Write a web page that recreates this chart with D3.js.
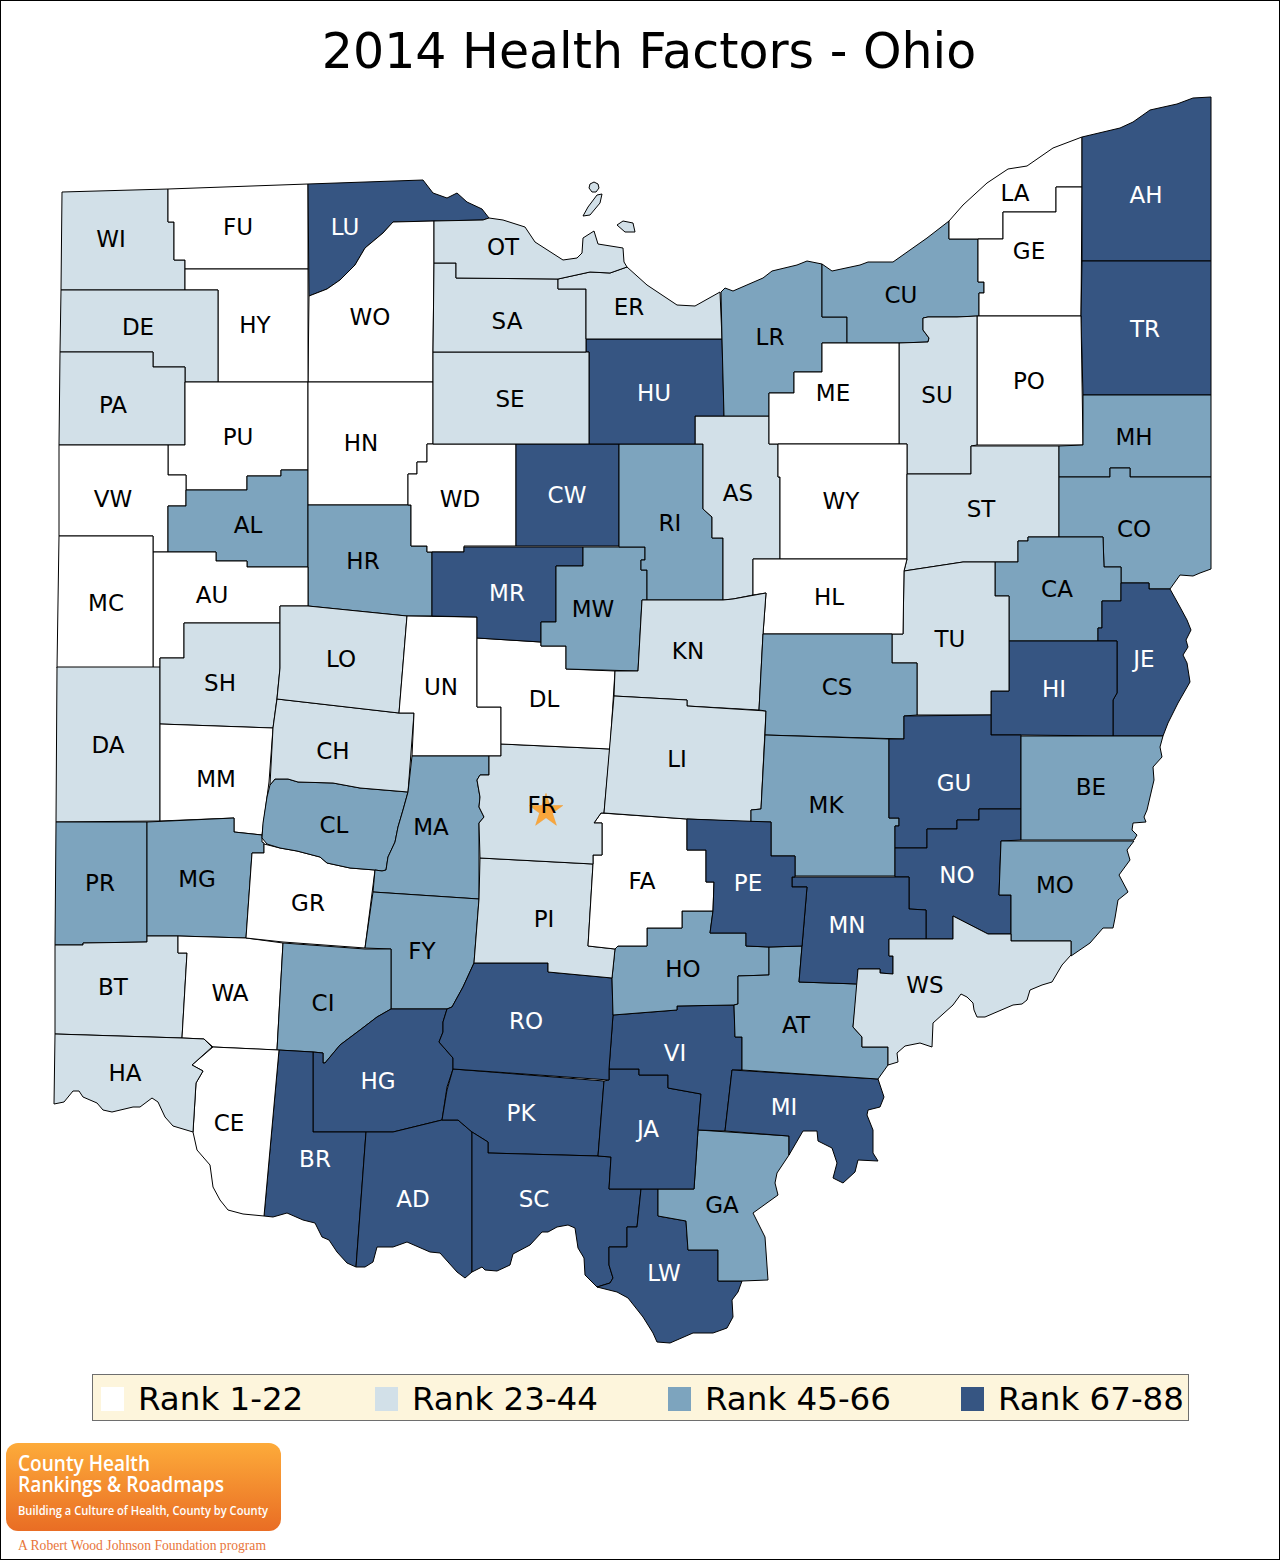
<!DOCTYPE html>
<html>
<head>
<meta charset="utf-8">
<title>2014 Health Factors - Ohio</title>
<script src="https://cdn.jsdelivr.net/npm/d3@7"></script>
<style>
  html, body { margin: 0; padding: 0; background: #fff; }
  svg { display: block; }
  text { font-family: "DejaVu Sans", sans-serif; }
</style>
</head>
<body>
<div id="chart"></div>
<script>
// rank bands
const bandLabels = ["Rank 1-22", "Rank 23-44", "Rank 45-66", "Rank 67-88"];
const bandColors = ["#ffffff", "#d2e0e8", "#7da4be", "#365582"];

const band1 = ["FU","HY","WO","PU","HN","VW","WD","MC","AU","MM","GR","WA","CE","UN","DL","FA","ME","WY","LA","GE","PO","HL"];
const band2 = ["WI","DE","PA","OT","SA","SE","ER","AS","SU","ST","TU","KN","LI","DA","SH","LO","CH","BT","HA","FR","PI","WS"];
const band3 = ["AL","HR","RI","MW","LR","CU","MH","CO","CA","CS","MK","BE","MO","PR","MG","CL","MA","FY","CI","HO","AT","GA"];
const band4 = ["LU","HU","CW","MR","AH","TR","JE","HI","GU","NO","MN","PE","HG","BR","AD","PK","SC","RO","VI","JA","LW","MI"];
const bandCounties = [band1, band2, band3, band4];

const outlines = {
  WI: [[62,192],[168,189],[168,222],[174,222],[174,260],[185,260],[185,290],[61,290]],
  FU: [[168,189],[308,184],[308,269],[185,269],[185,260],[174,260],[174,222],[168,222]],
  LU: [[308,184],[423,180],[433,193],[447,198],[457,193],[467,202],[482,209],[489,218],[483,220],[435,221],[393,222],[383,233],[365,248],[355,265],[340,280],[327,289],[309,296]],
  WO: [[309,296],[327,289],[340,280],[355,265],[365,248],[383,233],[393,222],[434,221],[434,264],[433,351],[433,382],[308,382]],
  HY: [[185,269],[308,269],[308,382],[218,382],[218,290],[185,290]],
  DE: [[61,290],[218,290],[218,382],[185,382],[185,367],[153,367],[153,352],[60,352]],
  PA: [[60,352],[153,352],[153,367],[185,367],[185,445],[59,445]],
  PU: [[185,382],[308,382],[308,470],[281,470],[281,476],[247,476],[247,490],[186,490],[186,475],[168,475],[168,445],[185,445]],
  VW: [[59,445],[168,445],[168,475],[186,475],[186,506],[168,506],[168,552],[153,552],[153,536],[59,536]],
  AL: [[186,490],[247,490],[247,476],[281,476],[281,470],[308,470],[308,567],[247,567],[247,561],[216,561],[216,552],[168,552],[168,506],[186,506]],
  HN: [[308,382],[433,382],[433,444],[427,444],[427,462],[417,462],[417,474],[408,474],[408,505],[308,505]],
  HR: [[308,505],[411,505],[411,546],[427,546],[427,552],[432,552],[432,616],[407,616],[308,606]],
  AU: [[153,552],[216,552],[216,561],[247,561],[247,567],[308,567],[308,606],[280,606],[280,623],[184,623],[184,658],[160,658],[160,668],[153,668]],
  MC: [[59,536],[153,536],[153,668],[57,668]],
  DA: [[57,667],[160,667],[160,821],[56,822]],
  SH: [[160,658],[184,658],[184,623],[280,623],[280,668],[277,698],[273,728],[160,724]],
  MM: [[160,724],[273,728],[269,782],[262,835],[234,832],[234,818],[160,821]],
  PR: [[56,822],[147,822],[147,942],[83,943],[83,945],[55,945]],
  MG: [[147,822],[234,818],[234,832],[262,835],[262,842],[264,843],[264,853],[252,853],[246,938],[178,936],[147,936]],
  BT: [[55,945],[83,945],[83,943],[147,942],[147,936],[178,936],[178,953],[187,953],[182,1038],[55,1034]],
  WA: [[178,936],[246,938],[283,943],[277,1050],[213,1047],[204,1039],[182,1038],[187,953],[178,953]],
  GR: [[252,853],[264,853],[264,844],[280,848],[297,851],[320,857],[327,863],[350,868],[375,870],[365,948],[283,942],[246,938]],
  CL: [[270,785],[275,779],[288,779],[298,782],[333,783],[360,788],[408,792],[403,810],[398,827],[395,842],[388,857],[386,870],[382,871],[375,870],[350,868],[327,863],[320,857],[297,851],[280,848],[267,844],[262,838],[263,823],[267,797]],
  CH: [[277,699],[399,713],[414,713],[408,792],[360,788],[333,783],[298,782],[288,779],[275,779],[270,785],[273,728]],
  LO: [[280,606],[308,606],[407,616],[399,713],[277,699],[280,668]],
  UN: [[407,616],[477,617],[477,707],[501,707],[501,756],[412,756],[414,713],[399,713]],
  MA: [[412,756],[489,756],[489,775],[480,775],[477,780],[480,797],[479,807],[484,817],[479,823],[479,899],[373,892],[375,870],[382,871],[386,870],[388,857],[395,842],[398,827],[403,810],[408,792]],
  FY: [[373,892],[479,899],[474,963],[463,987],[452,1007],[447,1009],[391,1009],[391,949],[365,948]],
  CI: [[283,943],[365,949],[391,949],[391,1009],[377,1017],[360,1030],[340,1045],[325,1063],[323,1063],[323,1053],[313,1052],[277,1050]],
  HG: [[313,1052],[323,1053],[323,1063],[325,1063],[340,1045],[360,1030],[377,1017],[391,1009],[447,1009],[443,1022],[443,1032],[439,1042],[453,1058],[453,1069],[447,1087],[442,1120],[393,1132],[313,1132]],
  BR: [[279,1050],[313,1052],[313,1132],[366,1132],[356,1267],[347,1263],[337,1252],[329,1240],[322,1237],[315,1223],[303,1220],[287,1213],[273,1217],[264,1216]],
  CE: [[213,1047],[279,1050],[264,1216],[243,1214],[228,1210],[220,1200],[213,1187],[210,1165],[197,1150],[193,1132],[196,1083],[203,1071],[192,1065]],
  HA: [[55,1034],[182,1038],[204,1039],[212,1047],[192,1065],[203,1071],[196,1083],[193,1132],[173,1126],[165,1117],[158,1102],[152,1098],[140,1107],[133,1107],[112,1112],[103,1110],[97,1103],[83,1097],[79,1091],[73,1091],[64,1102],[54,1104]],
  AD: [[366,1132],[393,1132],[442,1120],[458,1120],[472,1132],[472,1272],[465,1278],[457,1272],[440,1253],[430,1252],[407,1242],[393,1247],[377,1247],[373,1262],[365,1267],[356,1267]],
  PK: [[453,1069],[604,1081],[598,1156],[488,1153],[488,1142],[472,1132],[458,1120],[442,1120],[447,1090]],
  SC: [[472,1132],[488,1142],[488,1153],[598,1156],[611,1157],[609,1189],[641,1189],[637,1227],[627,1227],[627,1247],[609,1247],[609,1265],[613,1278],[610,1283],[597,1287],[585,1275],[584,1258],[578,1248],[575,1228],[568,1225],[557,1227],[548,1232],[542,1232],[530,1245],[513,1254],[510,1265],[497,1271],[485,1270],[482,1267],[472,1272]],
  LW: [[641,1189],[658,1189],[658,1216],[686,1221],[688,1250],[718,1250],[718,1281],[742,1281],[738,1292],[732,1300],[733,1317],[727,1328],[713,1333],[693,1333],[670,1343],[657,1342],[653,1333],[643,1317],[628,1298],[617,1292],[597,1287],[610,1283],[613,1278],[609,1265],[609,1247],[627,1247],[627,1227],[637,1227]],
  GA: [[698,1130],[789,1136],[789,1155],[777,1173],[775,1183],[778,1195],[753,1213],[765,1237],[768,1280],[742,1281],[718,1281],[718,1250],[688,1250],[686,1221],[658,1216],[658,1189],[694,1189]],
  JA: [[609,1069],[639,1069],[639,1075],[668,1075],[668,1088],[701,1094],[698,1130],[694,1189],[609,1189],[611,1157],[598,1156],[604,1081],[609,1080]],
  VI: [[613,1015],[677,1010],[677,1006],[734,1005],[735,1037],[742,1037],[742,1070],[732,1070],[725,1131],[698,1130],[701,1094],[668,1088],[668,1075],[639,1075],[639,1069],[609,1069]],
  RO: [[474,963],[548,963],[548,972],[612,978],[613,1015],[609,1069],[609,1080],[453,1069],[453,1058],[439,1042],[443,1032],[443,1022],[447,1009],[452,1007],[463,987]],
  MI: [[732,1070],[878,1079],[884,1097],[880,1107],[868,1110],[867,1115],[873,1130],[873,1153],[878,1161],[858,1160],[855,1172],[843,1183],[833,1178],[837,1163],[832,1148],[818,1141],[817,1131],[803,1131],[789,1155],[789,1136],[725,1131]],
  HO: [[615,948],[618,946],[647,946],[647,928],[682,928],[682,911],[713,911],[710,933],[746,933],[746,946],[769,947],[769,975],[738,976],[738,1004],[734,1005],[677,1006],[677,1010],[613,1015],[612,978]],
  AT: [[769,947],[802,946],[799,982],[858,984],[853,1027],[862,1037],[862,1047],[888,1047],[888,1065],[878,1079],[742,1070],[742,1037],[735,1037],[734,1005],[738,1004],[738,976],[769,975]],
  PI: [[480,858],[593,864],[588,946],[615,949],[612,978],[548,972],[548,963],[474,963],[479,899]],
  FA: [[594,823],[601,813],[687,819],[687,850],[706,850],[706,882],[714,882],[713,911],[682,911],[682,928],[647,928],[647,946],[618,946],[615,949],[588,946],[593,864],[593,855],[602,855],[602,823]],
  FR: [[501,744],[610,749],[604,813],[601,813],[594,823],[602,823],[602,855],[593,855],[593,864],[480,858],[479,823],[484,817],[479,807],[480,797],[477,780],[480,775],[489,775],[489,756],[501,756]],
  DL: [[477,638],[541,642],[541,646],[566,646],[566,669],[615,671],[610,749],[501,744],[501,707],[477,707]],
  WD: [[427,444],[516,444],[516,546],[464,546],[464,552],[427,552],[427,546],[411,546],[411,505],[408,505],[408,474],[417,474],[417,462],[427,462]],
  CW: [[516,444],[619,444],[619,546],[516,546]],
  MR: [[432,552],[464,552],[464,547],[583,547],[583,566],[556,566],[556,622],[541,622],[541,642],[477,638],[477,617],[432,616]],
  MW: [[556,566],[583,566],[583,547],[645,547],[645,560],[641,560],[641,570],[647,570],[647,600],[642,600],[638,671],[566,669],[566,646],[541,646],[541,622],[556,622]],
  RI: [[619,444],[703,444],[703,509],[712,517],[712,538],[723,538],[723,600],[647,600],[647,570],[641,570],[641,560],[645,560],[645,547],[619,547]],
  AS: [[695,416],[769,416],[769,444],[778,444],[778,477],[780,477],[780,559],[753,559],[753,595],[733,599],[723,600],[723,538],[712,538],[712,517],[703,509],[703,444],[695,444]],
  HU: [[586,339],[722,339],[724,416],[695,416],[695,444],[589,444],[589,352],[586,352]],
  SE: [[433,352],[589,352],[589,444],[433,444]],
  SA: [[434,263],[456,263],[456,278],[558,279],[558,289],[586,289],[586,352],[433,352]],
  ER: [[558,279],[590,272],[610,273],[627,267],[647,285],[677,305],[695,306],[720,292],[722,339],[586,339],[586,289],[558,289]],
  LR: [[721,292],[725,288],[733,291],[763,278],[772,271],[797,265],[807,261],[822,264],[822,317],[847,317],[847,343],[822,343],[822,372],[794,372],[794,393],[769,393],[769,416],[724,416],[722,339]],
  CU: [[822,264],[832,271],[860,265],[868,262],[893,262],[927,238],[949,221],[949,239],[978,239],[978,282],[984,282],[984,293],[979,293],[979,316],[957,317],[928,317],[923,318],[923,330],[929,338],[928,342],[899,343],[847,343],[847,317],[822,317]],
  LA: [[949,221],[963,205],[987,183],[1008,169],[1027,166],[1053,148],[1082,137],[1082,187],[1056,187],[1056,212],[1003,212],[1003,239],[949,239]],
  GE: [[978,239],[1003,239],[1003,212],[1056,212],[1056,187],[1082,187],[1081,316],[979,316],[979,293],[984,293],[984,282],[978,282]],
  AH: [[1082,137],[1120,128],[1133,122],[1150,110],[1177,104],[1193,98],[1211,97],[1211,261],[1082,261]],
  TR: [[1082,261],[1211,261],[1211,395],[1083,395],[1081,317]],
  PO: [[977,316],[1081,316],[1083,445],[977,445]],
  SU: [[928,317],[957,317],[977,316],[977,445],[971,446],[971,474],[907,474],[907,444],[899,444],[899,343],[928,342],[929,338],[923,330],[923,318]],
  ME: [[822,372],[822,343],[899,343],[899,444],[769,444],[769,393],[794,393],[794,372]],
  WY: [[778,444],[907,444],[907,559],[780,559],[780,477],[778,477]],
  ST: [[907,474],[971,474],[971,446],[1059,446],[1059,537],[1028,537],[1028,541],[1018,541],[1018,562],[995,562],[963,562],[904,571],[907,559]],
  MH: [[1083,395],[1211,395],[1211,477],[1130,477],[1130,468],[1110,468],[1110,477],[1059,477],[1059,446],[1083,445]],
  CO: [[1059,477],[1110,477],[1110,468],[1130,468],[1130,477],[1211,477],[1211,569],[1200,573],[1193,576],[1180,575],[1170,589],[1149,589],[1149,583],[1121,583],[1121,567],[1104,567],[1103,537],[1059,537]],
  CA: [[1018,541],[1028,541],[1028,537],[1103,537],[1104,567],[1121,567],[1121,601],[1102,601],[1102,628],[1098,628],[1098,641],[1009,641],[1009,596],[995,596],[995,562],[1018,562]],
  JE: [[1102,601],[1121,601],[1121,583],[1149,583],[1149,589],[1170,589],[1180,607],[1187,620],[1191,630],[1186,640],[1188,647],[1183,655],[1187,663],[1190,682],[1178,703],[1168,723],[1163,736],[1113,736],[1113,700],[1117,693],[1117,641],[1098,641],[1098,628],[1102,628]],
  HI: [[1009,641],[1117,641],[1117,693],[1113,700],[1113,736],[1021,735],[991,735],[991,691],[1009,691]],
  TU: [[904,571],[963,562],[995,562],[995,596],[1009,596],[1009,691],[991,691],[991,715],[917,715],[917,663],[892,663],[892,634],[903,634]],
  HL: [[753,559],[907,559],[904,571],[903,634],[763,634],[766,593],[753,595]],
  KN: [[642,600],[723,600],[733,599],[766,593],[763,634],[759,710],[687,706],[687,700],[614,696],[615,671],[638,671]],
  LI: [[614,696],[687,700],[687,706],[766,711],[761,809],[751,810],[751,822],[687,819],[604,813]],
  CS: [[763,634],[892,634],[892,663],[917,663],[917,715],[904,716],[904,739],[765,735],[766,711],[759,710]],
  MK: [[765,735],[889,739],[889,818],[899,818],[899,826],[895,826],[895,876],[795,876],[795,856],[771,856],[771,822],[751,822],[751,810],[761,809]],
  GU: [[904,716],[991,715],[991,735],[1021,735],[1021,809],[979,809],[979,820],[957,820],[957,829],[927,829],[927,848],[895,848],[895,826],[899,826],[899,818],[889,818],[889,739],[904,739]],
  NO: [[895,848],[927,848],[927,829],[957,829],[957,820],[979,820],[979,809],[1021,809],[1021,840],[1001,841],[999,895],[1011,895],[1011,934],[988,934],[953,916],[953,939],[926,939],[926,910],[909,909],[909,877],[895,877]],
  MN: [[792,877],[909,877],[909,909],[926,910],[926,939],[889,939],[889,956],[893,956],[893,974],[880,973],[880,969],[858,969],[858,984],[799,982],[807,887],[792,887]],
  PE: [[687,819],[771,822],[771,856],[795,856],[795,877],[792,877],[792,887],[807,887],[802,946],[769,947],[746,946],[746,933],[710,933],[713,911],[714,882],[706,882],[706,850],[687,850]],
  BE: [[1021,736],[1163,736],[1160,747],[1162,757],[1153,767],[1154,780],[1147,810],[1144,817],[1146,822],[1133,823],[1132,830],[1137,835],[1134,840],[1021,840]],
  MO: [[1001,841],[1134,841],[1127,850],[1130,860],[1119,875],[1128,892],[1118,900],[1115,918],[1113,928],[1103,928],[1090,943],[1071,956],[1071,941],[1011,941],[1011,895],[999,895]],
  WS: [[889,939],[953,939],[953,916],[988,934],[1011,934],[1011,941],[1071,941],[1071,955],[1062,965],[1052,982],[1042,985],[1030,990],[1027,1000],[1022,1004],[1013,1005],[985,1017],[977,1017],[974,1010],[973,1003],[967,997],[961,994],[953,1005],[933,1023],[932,1047],[920,1043],[905,1046],[897,1053],[898,1062],[888,1065],[888,1047],[862,1047],[862,1037],[853,1027],[858,969],[880,969],[880,973],[893,974],[893,956],[889,956]],
  OT: [[434,221],[483,220],[489,218],[503,220],[525,227],[535,242],[563,260],[577,258],[582,253],[583,238],[594,231],[598,244],[623,248],[624,262],[627,267],[610,273],[590,272],[558,279],[456,278],[456,263],[434,263]]
};

// lake erie islands, part of OT
const islands = [
  [[590,184],[594,182],[598,184],[599,188],[596,192],[592,192],[589,188]],
  [[602,194],[600,203],[590,215],[583,216],[588,207],[597,195]],
  [[617,225],[623,221],[633,223],[635,232],[625,232]]
];

// where each code sits on the map
const labelAt = {
  WI:[111,239],FU:[238,227],LU:[345,227],WO:[370,317],OT:[503,247],SA:[507,321],ER:[629,307],DE:[138,327],HY:[255,325],
  PA:[113,405],PU:[238,437],HN:[361,443],SE:[510,399],HU:[654,393],LR:[770,337],ME:[833,393],CU:[901,295],LA:[1015,193],
  GE:[1029,251],AH:[1146,195],TR:[1145,329],SU:[937,395],PO:[1029,381],MH:[1134,437],VW:[113,499],AL:[248,525],WD:[460,499],
  CW:[567,495],RI:[670,523],AS:[738,493],WY:[841,501],ST:[981,509],CO:[1134,529],MC:[106,603],AU:[212,595],HR:[363,561],
  MR:[507,593],MW:[593,609],HL:[829,597],CA:[1057,589],TU:[950,639],JE:[1144,659],SH:[220,683],LO:[341,659],UN:[441,687],
  KN:[688,651],CS:[837,687],HI:[1054,689],DA:[108,745],DL:[544,699],CH:[333,751],LI:[677,759],MM:[216,779],GU:[954,783],
  BE:[1091,787],MK:[826,805],FR:[542,805],CL:[334,825],MA:[431,827],PR:[100,883],MG:[197,879],FA:[642,881],PE:[748,883],
  NO:[957,875],MO:[1055,885],GR:[308,903],FY:[422,951],PI:[544,919],MN:[847,925],BT:[113,987],WA:[230,993],HO:[683,969],
  WS:[925,985],CI:[323,1003],RO:[526,1021],AT:[796,1025],VI:[675,1053],HA:[125,1073],HG:[378,1081],MI:[784,1107],PK:[521,1113],
  JA:[648,1129],CE:[229,1123],BR:[315,1159],SC:[534,1199],AD:[413,1199],GA:[722,1205],LW:[664,1273]
};

const capital = [546, 811]; // star on Franklin county

const width = 1280, height = 1560;

const color = d3.scaleOrdinal().domain([0, 1, 2, 3]).range(bandColors);
const legendX = d3.scaleOrdinal().domain([0, 1, 2, 3]).range([101, 375, 668, 961]);

const bandOf = {};
bandCounties.forEach((list, i) => list.forEach(c => { bandOf[c] = i; }));

const closeRing = r => r.concat([r[0]]);
const features = Object.keys(outlines).map(code => {
  const ring = closeRing(outlines[code]);
  const geometry = code === "OT"
    ? { type: "MultiPolygon", coordinates: [[ring]].concat(islands.map(r => [closeRing(r)])) }
    : { type: "Polygon", coordinates: [ring] };
  return { type: "Feature", id: code, geometry };
});

const projection = d3.geoIdentity();
const path = d3.geoPath(projection);

const svg = d3.select("#chart").append("svg")
  .attr("width", width)
  .attr("height", height);

const defs = svg.append("defs");
const grad = defs.append("linearGradient")
  .attr("id", "logoFill")
  .attr("x1", 0).attr("y1", 0).attr("x2", 0).attr("y2", 1);
grad.append("stop").attr("offset", "0%").attr("stop-color", "#fdab3a");
grad.append("stop").attr("offset", "100%").attr("stop-color", "#e96d24");

svg.append("rect")
  .attr("x", 0.5).attr("y", 0.5)
  .attr("width", width - 1).attr("height", height - 1)
  .attr("fill", "#fff")
  .attr("stroke", "#000");

svg.append("text")
  .attr("x", 649)
  .attr("y", 68)
  .attr("text-anchor", "middle")
  .attr("font-size", 49)
  .attr("fill", "#000")
  .text("2014 Health Factors - Ohio");

svg.append("g")
  .selectAll("path")
  .data(features)
  .join("path")
  .attr("d", path)
  .attr("fill", d => color(bandOf[d.id]))
  .attr("stroke", "#000")
  .attr("stroke-width", 1)
  .attr("stroke-linejoin", "round");

// star goes under the county codes
svg.append("path")
  .attr("d", d3.symbol(d3.symbolStar, 350))
  .attr("transform", `translate(${projection(capital)})`)
  .attr("fill", "#f9a63c")
  .attr("stroke", "#ee9a30")
  .attr("stroke-width", 0.5);

svg.append("g")
  .selectAll("text")
  .data(Object.keys(labelAt))
  .join("text")
  .attr("x", d => projection(labelAt[d])[0])
  .attr("y", d => projection(labelAt[d])[1])
  .attr("text-anchor", "middle")
  .attr("dominant-baseline", "central")
  .attr("font-size", 23)
  .attr("fill", d => bandOf[d] === 3 ? "#fff" : "#000")
  .text(d => d);

// legend
svg.append("rect")
  .attr("x", 92.5).attr("y", 1374.5)
  .attr("width", 1096).attr("height", 46)
  .attr("fill", "#fdf5dc")
  .attr("stroke", "#6e6e6e");

const legend = svg.append("g")
  .selectAll("g")
  .data(bandLabels)
  .join("g")
  .attr("transform", (d, i) => `translate(${legendX(i)},1387)`);

legend.append("rect")
  .attr("width", 23)
  .attr("height", 24)
  .attr("fill", (d, i) => color(i));

legend.append("text")
  .attr("x", 37)
  .attr("y", 23)
  .attr("font-size", 32.5)
  .attr("fill", "#000")
  .text(d => d);

// logo
const logo = svg.append("g");
logo.append("rect")
  .attr("x", 6).attr("y", 1443)
  .attr("width", 275).attr("height", 88)
  .attr("rx", 12)
  .attr("fill", "url(#logoFill)");

const logoName = logo.append("text")
  .attr("font-size", 21)
  .style("font-family", '"Open Sans", sans-serif')
  .style("font-weight", 600)
  .attr("fill", "#fff");
logoName.append("tspan")
  .attr("x", 18).attr("y", 1471)
  .attr("textLength", 132)
  .attr("lengthAdjust", "spacingAndGlyphs")
  .text("County Health");
logoName.append("tspan")
  .attr("x", 18).attr("y", 1492)
  .attr("textLength", 206)
  .attr("lengthAdjust", "spacingAndGlyphs")
  .text("Rankings & Roadmaps");

logo.append("text")
  .attr("x", 18)
  .attr("y", 1515)
  .attr("font-size", 12)
  .attr("textLength", 250)
  .attr("lengthAdjust", "spacingAndGlyphs")
  .style("font-family", '"Open Sans", sans-serif')
  .style("font-weight", 600)
  .attr("fill", "#fff")
  .text("Building a Culture of Health, County by County");

svg.append("text")
  .attr("x", 18)
  .attr("y", 1550)
  .attr("font-size", 14)
  .attr("textLength", 248)
  .attr("lengthAdjust", "spacingAndGlyphs")
  .style("font-family", '"Liberation Serif", serif')
  .attr("fill", "#e8753a")
  .text("A Robert Wood Johnson Foundation program");
</script>
</body>
</html>
